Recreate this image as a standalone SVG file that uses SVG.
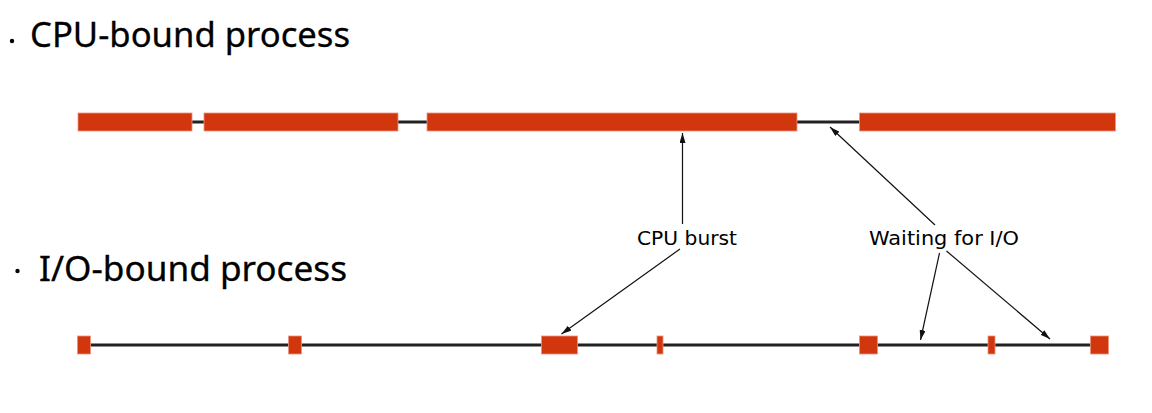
<svg xmlns="http://www.w3.org/2000/svg" width="1152" height="413" viewBox="0 0 1152 413">
  <defs>
    <marker id="arr" viewBox="0 0 10 6" refX="10" refY="3" markerWidth="10" markerHeight="6" markerUnits="userSpaceOnUse" orient="auto">
      <path d="M0,0 L10,3 L0,6 Z" fill="#111"/>
    </marker>
    <style>
      .head { font-family: "Noto Sans", "Liberation Sans", sans-serif; font-size: 34px; fill: #000; stroke: #000; stroke-width: 0.3; }
      .lbl { font-family: "DejaVu Sans", "Liberation Sans", sans-serif; font-size: 19px; fill: #000; }
      .burst { fill: #D2360D; stroke: #E99580; stroke-width: 0.8; }
      .wait { stroke: #222; stroke-width: 3; fill: none; }
      .conn { stroke: #111; stroke-width: 1.2; fill: none; marker-end: url(#arr); }
    </style>
  </defs>
  <rect width="1152" height="413" fill="#fff"/>

  <g id="heading-cpu">
    <circle cx="12" cy="41" r="2.2" fill="#000"/>
    <text class="head" x="30" y="47" textLength="320" lengthAdjust="spacingAndGlyphs">CPU-bound process</text>
  </g>
  <g id="heading-io">
    <circle cx="17.5" cy="271" r="2.2" fill="#000"/>
    <text class="head" x="39" y="281" textLength="308" lengthAdjust="spacingAndGlyphs">I/O-bound process</text>
  </g>

  <g id="cpu-bound-timeline">
    <line class="wait" x1="192" y1="122" x2="860" y2="122"/>
    <rect class="burst" x="78" y="113" width="114" height="18"/>
    <rect class="burst" x="204" y="113" width="194" height="18"/>
    <rect class="burst" x="427" y="113" width="370" height="18"/>
    <rect class="burst" x="859.5" y="113" width="256" height="18"/>
  </g>

  <g id="io-bound-timeline">
    <line class="wait" x1="88" y1="345" x2="1092" y2="345"/>
    <rect class="burst" x="77.5" y="336" width="13" height="18"/>
    <rect class="burst" x="288.5" y="336" width="13" height="18"/>
    <rect class="burst" x="541.5" y="336" width="36" height="18"/>
    <rect class="burst" x="657" y="336" width="6" height="18"/>
    <rect class="burst" x="859.5" y="336" width="18" height="18"/>
    <rect class="burst" x="988" y="336" width="7" height="18"/>
    <rect class="burst" x="1090.5" y="336" width="18" height="18"/>
  </g>

  <g id="label-cpu-burst">
    <text class="lbl" x="637" y="244.5" textLength="100" lengthAdjust="spacingAndGlyphs">CPU burst</text>
  </g>
  <g id="label-waiting">
    <text class="lbl" x="869" y="244.5" textLength="150" lengthAdjust="spacingAndGlyphs">Waiting for I/O</text>
  </g>

  <g id="connectors">
    <line class="conn" x1="682.5" y1="224" x2="682.5" y2="133"/>
    <line class="conn" x1="680" y1="249" x2="561.5" y2="334"/>
    <line class="conn" x1="935" y1="225" x2="830" y2="127"/>
    <line class="conn" x1="939.5" y1="253" x2="920.5" y2="340"/>
    <line class="conn" x1="946.5" y1="251" x2="1050" y2="339"/>
  </g>
</svg>
